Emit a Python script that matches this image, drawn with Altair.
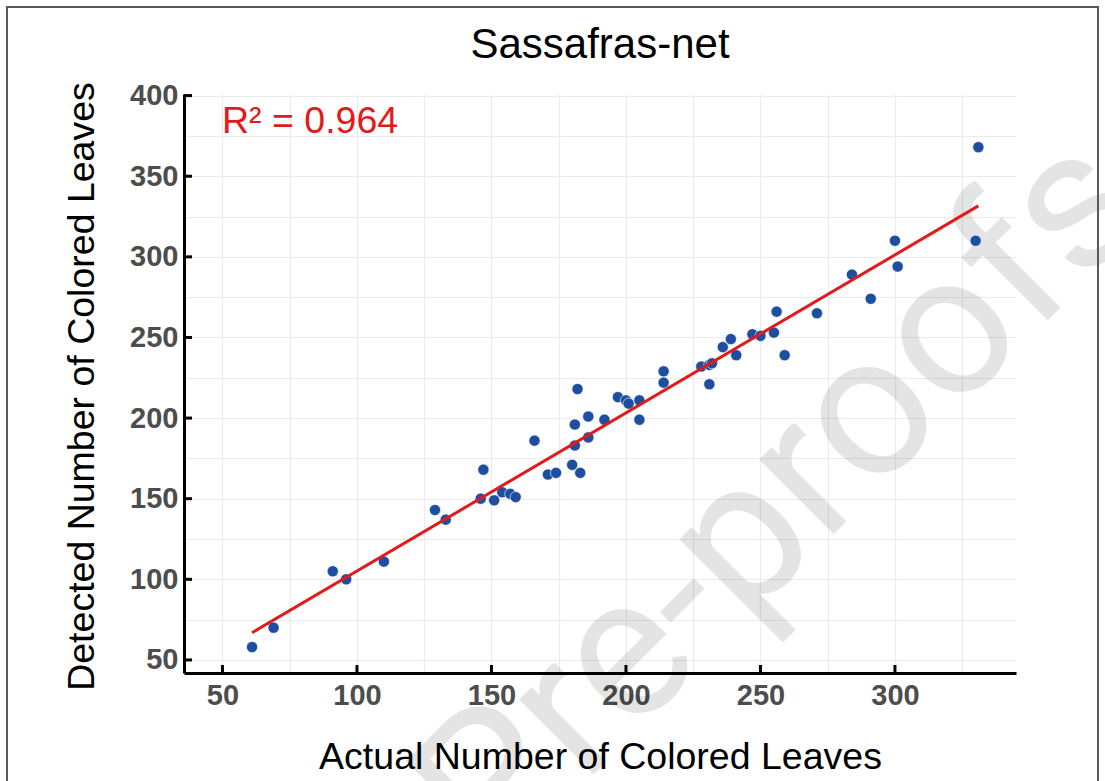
import altair as alt
import pandas as pd

# ---- data ----
actual = [61, 69, 91, 96, 110, 129, 133, 146, 147, 151,
          154, 157, 159, 166, 171, 174, 180, 181, 181, 182,
          183, 186, 186, 192, 197, 200, 201, 205, 205, 214,
          214, 228, 231, 232, 231, 236, 239, 241, 247, 250,
          255, 256, 259, 271, 284, 291, 300, 301, 331, 330]
detected = [58, 70, 105, 100, 111, 143, 137, 150, 168, 149,
            154, 153, 151, 186, 165, 166, 171, 196, 183, 218,
            166, 201, 188, 199, 213, 211, 209, 211, 199, 229,
            222, 232, 233, 234, 221, 244, 249, 239, 252, 251,
            253, 266, 239, 265, 289, 274, 310, 294, 368, 310]
fit_x = [61, 331]
fit_y = [66.9, 331.6]
r2_label = ["R\u00b2 = 0.964"]
x_grid = [50, 75, 100, 125, 150, 175, 200, 225, 250, 275, 300, 325]
y_grid = [50, 75, 100, 125, 150, 175, 200, 225, 250, 275, 300, 325, 350, 375, 400]
x_major = [50, 100, 150, 200, 250, 300]
y_major = [50, 100, 150, 200, 250, 300, 350, 400]
watermark = ["Journal Pre-proofs"]

W, H = 832, 579
FONT = "Liberation Sans"
BLUE = "#1d4ea0"
RED = "#e31a1c"

xscale = alt.Scale(domain=[35.7, 345.0], nice=False, zero=False)
yscale = alt.Scale(domain=[41.9, 401.0], nice=False, zero=False)

label_expr = "datum.value % 50 === 0 ? datum.label : ''"

x_axis = alt.Axis(values=x_grid, labelExpr=label_expr, ticks=False, tickSize=0,
                  labelPadding=8, labelBaseline="top",
                  title="Actual Number of Colored Leaves",
                  titleY=95, titleBaseline="alphabetic")
y_axis = alt.Axis(values=y_grid, labelExpr=label_expr, ticks=False, tickSize=0,
                  labelPadding=6,
                  title="Detected Number of Colored Leaves",
                  titleX=-91, titleY=292, titleAngle=270,
                  titleBaseline="alphabetic")

pts = pd.DataFrame({"actual": actual, "detected": detected})
fit = pd.DataFrame({"fx": fit_x, "fy": fit_y})

wm = alt.Chart(pd.DataFrame({"t": watermark})).mark_text(
    font="Roboto", fontSize=200, color="black", opacity=0.1, angle=315,
    align="right", baseline="alphabetic"
).encode(text="t:N", x=alt.value(970), y=alt.value(120))

frame = alt.Chart(pd.DataFrame({"a": [0]})).mark_rect(
    fillOpacity=0, stroke="#595959", strokeWidth=2
).encode(x=alt.value(-177), x2=alt.value(914), y=alt.value(-87), y2=alt.value(720))

title_txt = alt.Chart(pd.DataFrame({"t": ["Sassafras-net"]})).mark_text(
    font=FONT, fontSize=42, color="black", align="center", baseline="alphabetic"
).encode(text="t:N", x=alt.value(W / 2), y=alt.value(-36))

points = alt.Chart(pts).mark_circle(size=125, color=BLUE, opacity=1,
                                    stroke="white", strokeWidth=0.6).encode(
    x=alt.X("actual:Q", scale=xscale, axis=x_axis),
    y=alt.Y("detected:Q", scale=yscale, axis=y_axis),
)

line = alt.Chart(fit).mark_line(color=RED, strokeWidth=3).encode(
    x=alt.X("fx:Q", scale=xscale, axis=x_axis),
    y=alt.Y("fy:Q", scale=yscale, axis=y_axis),
)

r2 = alt.Chart(pd.DataFrame({"t": r2_label})).mark_text(
    font=FONT, fontSize=37.5, color=RED, align="left", baseline="alphabetic"
).encode(text="t:N", x=alt.value(38), y=alt.value(39))

xt = alt.Chart(pd.DataFrame({"v": x_major})).mark_rule(color="black", strokeWidth=3).encode(
    x=alt.X("v:Q", scale=xscale, axis=x_axis), y=alt.value(H), y2=alt.value(H - 8)
)
yt = alt.Chart(pd.DataFrame({"v": y_major})).mark_rule(color="black", strokeWidth=3).encode(
    y=alt.Y("v:Q", scale=yscale, axis=y_axis), x=alt.value(0), x2=alt.value(8)
)

chart = alt.layer(wm, frame, title_txt, points, line, r2, xt, yt).properties(
    width=W, height=H,
    background="white",
    autosize=alt.AutoSizeParams(type="none"),
    padding={"left": 184, "top": 94, "right": 89, "bottom": 108},
).configure_view(strokeWidth=0, stroke="transparent").configure_axis(
    domainColor="black", domainWidth=3,
    gridColor="#ebebeb", gridWidth=1.2,
    labelFont=FONT, labelFontSize=29, labelFontWeight="bold", labelColor="#4d4d4d",
    titleFont=FONT, titleFontSize=37.5, titleFontWeight="normal", titleColor="black",
)

chart.save("out.html", embed_options={"renderer": "svg", "actions": False})
